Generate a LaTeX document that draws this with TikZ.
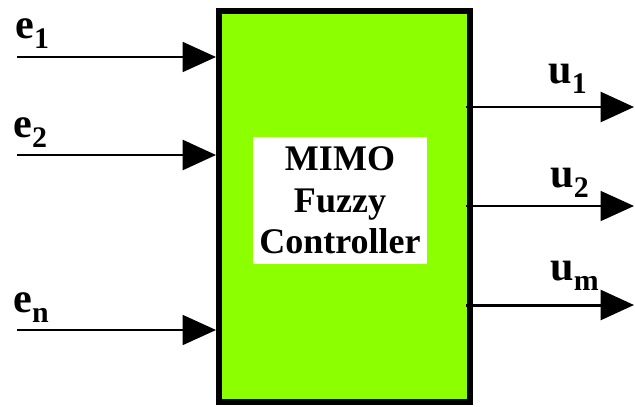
\documentclass[tikz,border=0pt]{standalone}
\usepackage{fontspec}
\setmainfont{Liberation Serif}
\usepackage{tikz}
\usetikzlibrary{arrows.meta, positioning, calc}
\definecolor{fuzzygreen}{RGB}{140,255,0}
\newcommand{\sigsub}[2]{#1\raisebox{-6pt}{\fontsize{17}{17}\selectfont #2}}
\tikzset{
  ctrlbox/.style={
    draw, line width=3.4pt, fill=fuzzygreen, inner sep=0pt,
    minimum width=5.02cm, minimum height=7.82cm
  },
  namebox/.style={
    fill=white, inner sep=0pt, align=center,
    minimum width=3.48cm, minimum height=2.54cm,
    font=\bfseries\fontsize{20.5}{23.5}\selectfont
  },
  sigarrow/.style={
    -{Triangle[length=19pt, width=17pt]}, line width=1.2pt
  },
  sigarrowbold/.style={sigarrow, line width=1.7pt},
  siglabel/.style={
    anchor=base west, inner sep=0pt,
    font=\bfseries\fontsize{24}{28}\selectfont
  },
}
\begin{document}
\begin{tikzpicture}[x=0.02cm, y=-0.02cm]
  \useasboundingbox (0,0) rectangle (635,406);

  % Controller block
  \node[ctrlbox] (ctrl) at (344.5,206.5) {};
  \node[namebox] (name) at (340,200.5) {MIMO\\Fuzzy\\Controller};

  % Inputs
  \coordinate (e1in) at (17,57);
  \coordinate (e2in) at (17,155);
  \coordinate (enin) at (17,330);
  \draw[sigarrow] (e1in) -- (e1in -| ctrl.west);
  \draw[sigarrowbold] (e2in) -- (e2in -| ctrl.west);
  \draw[sigarrow] (enin) -- (enin -| ctrl.west);
  \node[siglabel] (e1lbl) at ($(e1in)+(-2,-19)$) {\sigsub{e}{1}};
  \node[siglabel] (e2lbl) at ($(e2in)+(-4,-18)$) {\sigsub{e}{2}};
  \node[siglabel] (enlbl) at ($(enin)+(-4,-18)$) {\sigsub{e}{n}};

  % Outputs
  \coordinate (u1out) at (634,107);
  \coordinate (u2out) at (634,206);
  \coordinate (umout) at (634,305);
  \draw[sigarrowbold, shorten <=-4pt] (u1out -| ctrl.east) -- (u1out);
  \draw[sigarrow, shorten <=-4pt] (u2out -| ctrl.east) -- (u2out);
  \draw[sigarrowbold, shorten <=-4pt] (umout -| ctrl.east) -- (umout);
  \node[siglabel] (u1lbl) at (548,83) {\sigsub{u}{1}};
  \node[siglabel] (u2lbl) at (550,187) {\sigsub{u}{2}};
  \node[siglabel] (umlbl) at (550,280) {\sigsub{u}{m}};
\end{tikzpicture}
\end{document}
